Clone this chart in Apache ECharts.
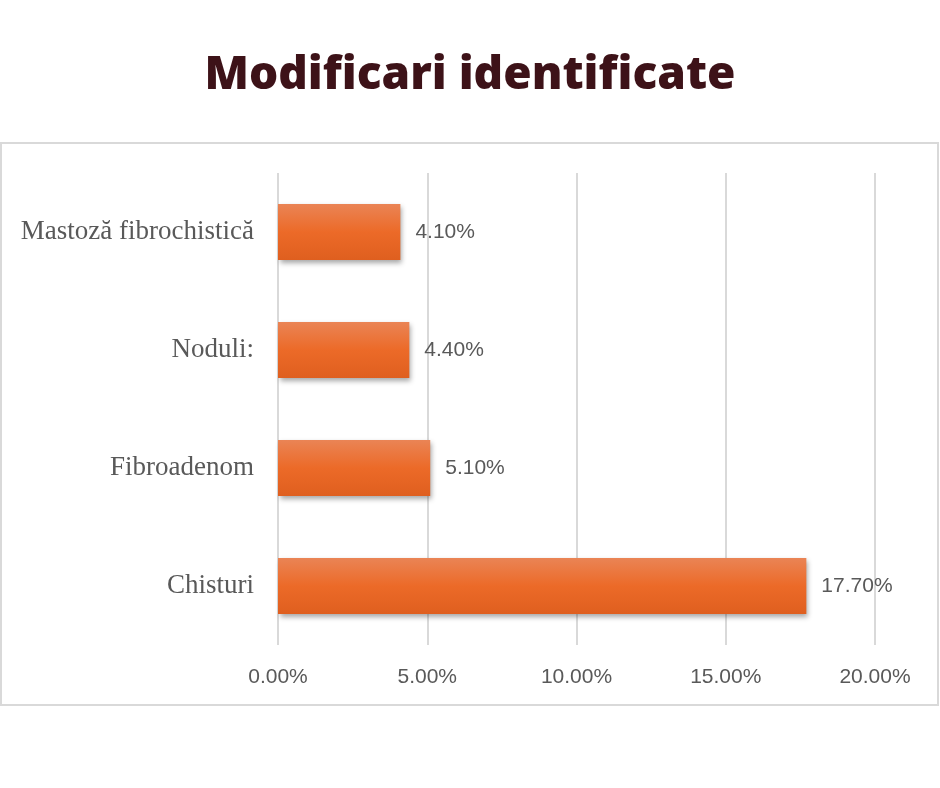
<!DOCTYPE html>
<html><head><meta charset="utf-8">
<script src="https://cdn.jsdelivr.net/npm/echarts@6/dist/echarts.min.js"></script>
<style>html,body{margin:0;padding:0;background:#fff}#c{width:940px;height:788px}</style>
</head><body><div id="c"></div>
<script>
const titleText = "Modificari identificate";
const categories = ["Chisturi", "Fibroadenom", "Noduli:", "Mastoză fibrochistică"];
const values = [17.7, 5.1, 4.4, 4.1];
const tickMin = 0, tickMax = 20, tickStep = 5;

const chart = echarts.init(document.getElementById('c'));
chart.setOption({
  backgroundColor: '#ffffff',
  animation: false,
  title: {
    text: titleText, left: 'center', top: 48,
    textStyle: {fontFamily: 'Open Sans', fontWeight: 800, fontSize: 46, color: '#3D1218'}
  },
  graphic: [{
    type: 'rect', shape: {x: 1, y: 143, width: 937, height: 562},
    style: {fill: 'none', stroke: '#d9d9d9', lineWidth: 2}, z: -1
  }],
  grid: {left: 278, right: 65, top: 173, height: 472},
  xAxis: {
    type: 'value', min: tickMin, max: tickMax, interval: tickStep,
    axisLine: {show: false}, axisTick: {show: false},
    splitLine: {lineStyle: {color: '#d9d9d9', width: 2}},
    axisLabel: {formatter: v => v.toFixed(2) + '%', fontFamily: 'Liberation Sans', fontSize: 21, color: '#595959', margin: 22}
  },
  yAxis: {
    type: 'category', data: categories,
    axisLine: {show: false}, axisTick: {show: false},
    axisLabel: {fontFamily: 'Liberation Serif', fontSize: 27, color: '#595959', margin: 24}
  },
  series: [{
    type: 'bar', data: values, barWidth: 56,
    itemStyle: {
      color: new echarts.graphic.LinearGradient(0, 0, 0, 1, [
        {offset: 0, color: '#EA8455'}, {offset: 0.5, color: '#EC6A28'}, {offset: 1, color: '#DF5F1F'}
      ]),
      shadowColor: 'rgba(0,0,0,0.35)', shadowBlur: 5, shadowOffsetX: 2, shadowOffsetY: 3
    },
    label: {
      show: true, position: 'right', distance: 15,
      formatter: p => p.value.toFixed(2) + '%',
      fontFamily: 'Liberation Sans', fontSize: 21, color: '#595959'
    }
  }]
});
</script></body></html>
